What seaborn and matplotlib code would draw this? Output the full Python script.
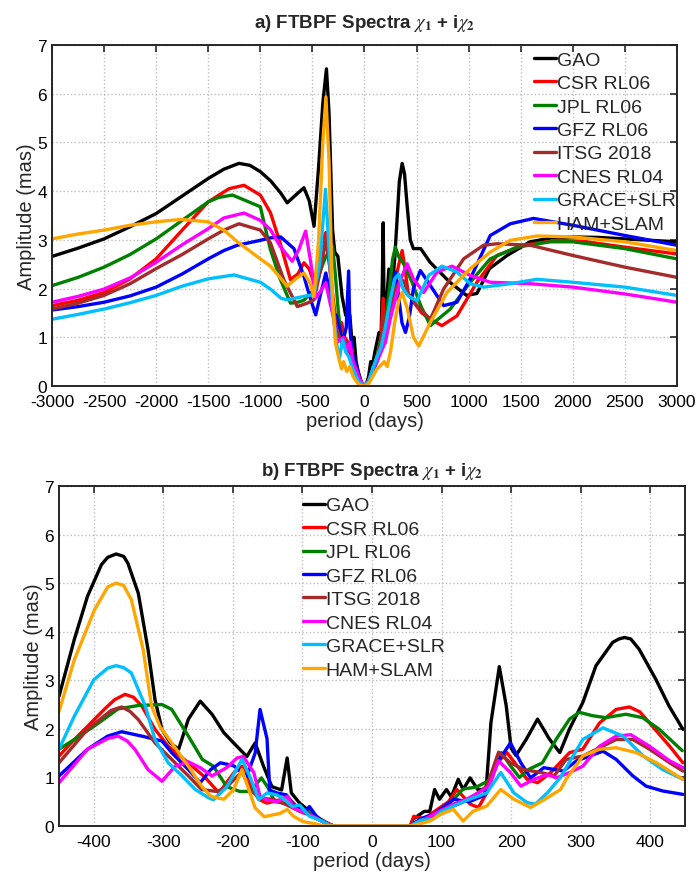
import numpy as np
import pandas as pd
import seaborn as sns
import matplotlib
matplotlib.use("Agg")
import matplotlib.pyplot as plt

names = ["GAO", "CSR RL06", "JPL RL06", "GFZ RL06", "ITSG 2018", "CNES RL04", "GRACE+SLR", "HAM+SLAM"]
colors = ["#000000", "#ff0000", "#008000", "#0000ff", "#a52a2a", "#ff00ff", "#00bfff", "#ffa500"]

# ---- panel a: period (days) / amplitude (mas) ----
a_gao_p = [-3000, -2750, -2500, -2250, -2000, -1750, -1500, -1350, -1205, -1100, -1000, -900, -800, -742, -660, -581,
           -530, -484, -440, -400, -365, -340, -306, -285, -255, -215, -180, -150, -140, -120, -100, -80, -60, -40, -20,
           0, 20, 40, 60, 80, 100, 120, 140, 160, 172, 180, 188, 202, 234, 266, 290, 310, 335, 362, 385, 410, 440, 470,
           540, 630, 820, 980, 1080, 1200, 1370, 1590, 1800, 2000, 2250, 2500, 2750, 3000]
a_gao_v = [2.66, 2.83, 3.02, 3.27, 3.54, 3.9, 4.26, 4.45, 4.57, 4.53, 4.40, 4.21, 3.95, 3.76, 3.92, 4.07,
           3.8, 3.28, 4.5, 5.8, 6.51, 5.6, 3.2, 2.75, 2.66, 1.84, 1.45, 1.5, 1.45, 0.9, 1.0, 0.5, 0.3, 0.15, 0.03,
           0, 0.05, 0.2, 0.5, 0.45, 0.7, 0.9, 1.1, 1.0, 2.2, 3.35, 1.6, 1.38, 2.4, 2.0, 2.6, 3.3, 4.2, 4.57, 4.35, 3.7, 3.0,
           2.82, 2.82, 2.54, 2.13, 1.86, 1.9, 2.41, 2.68, 2.96, 3.04, 3.06, 3.05, 3.02, 2.99, 2.96]

a_csr_p = [-3000, -2750, -2500, -2250, -2000, -1750, -1500, -1300, -1157, -1000, -903, -810, -710, -640, -581, -530,
           -484, -440, -400, -371, -340, -306, -280, -250, -220, -190, -160, -130, -100, -70, -40, 0, 40, 80, 120, 160,
           180, 200, 230, 270, 300, 330, 362, 390, 420, 473, 550, 633, 744, 888, 1080, 1272, 1527, 1847, 2102, 2500, 3000]
a_csr_v = [1.65, 1.76, 1.92, 2.2, 2.61, 3.2, 3.78, 4.05, 4.12, 3.92, 3.56, 2.94, 2.18, 2.3, 2.53, 2.4,
           2.11, 2.6, 3.0, 3.15, 2.6, 1.9, 1.43, 1.2, 1.3, 1.0, 0.9, 0.7, 0.5, 0.3, 0.1, 0, 0.1, 0.3, 0.6, 1.0,
           1.8, 1.0, 1.5, 1.8, 2.2, 2.5, 2.78, 2.4, 1.9, 1.72, 1.5, 1.37, 1.24, 1.44, 2.13, 2.68, 2.89, 2.99, 2.97, 2.85, 2.71]

a_jpl_p = [-3000, -2750, -2500, -2250, -2000, -1750, -1500, -1400, -1268, -1000, -903, -810, -710, -640, -581, -484,
           -400, -371, -306, -280, -250, -215, -180, -150, -120, -90, -60, -30, 0, 40, 80, 120, 160, 200, 240, 270, 297,
           330, 380, 457, 540, 633, 824, 1016, 1208, 1463, 1783, 2000, 2500, 3000]
a_jpl_v = [2.06, 2.23, 2.44, 2.7, 3.02, 3.4, 3.78, 3.87, 3.92, 3.68, 2.8, 2.2, 1.70, 1.72, 1.76, 1.98,
           2.5, 2.66, 2.87, 2.3, 1.5, 0.88, 0.9, 0.8, 0.6, 0.4, 0.2, 0.05, 0, 0.1, 0.35, 0.6, 1.0, 1.3, 2.0, 2.6, 2.85,
           2.65, 2.5, 2.13, 1.65, 1.24, 1.58, 2.13, 2.61, 2.85, 2.96, 2.96, 2.82, 2.61]

a_gfz_p = [-3000, -2750, -2500, -2250, -2000, -1750, -1500, -1350, -1220, -1000, -903, -805, -677, -581, -520, -468,
           -420, -371, -330, -306, -270, -240, -210, -175, -152, -140, -120, -90, -60, -30, 0, 40, 80, 120, 160, 200, 240,
           282, 300, 330, 360, 394, 430, 470, 537, 633, 760, 888, 1016, 1208, 1400, 1623, 2000, 2500, 3000]
a_gfz_v = [1.56, 1.63, 1.72, 1.85, 2.03, 2.3, 2.61, 2.78, 2.89, 2.99, 3.04, 3.06, 2.82, 2.25, 1.8, 1.46,
           1.9, 2.32, 1.9, 1.50, 1.45, 1.2, 0.88, 1.2, 2.36, 1.2, 0.7, 0.5, 0.25, 0.05, 0, 0.1, 0.3, 0.5, 0.8, 1.0, 1.6,
           2.2, 2.34, 1.8, 1.3, 1.10, 1.4, 2.0, 2.37, 2.06, 1.65, 1.72, 2.20, 3.09, 3.33, 3.44, 3.30, 3.09, 2.89]

a_itsg_p = [-3000, -2750, -2500, -2250, -2000, -1750, -1500, -1350, -1205, -1000, -903, -774, -645, -550, -484, -420,
            -371, -330, -300, -270, -240, -200, -160, -130, -100, -70, -40, 0, 40, 80, 120, 160, 180, 200, 240, 280, 340,
            377, 420, 505, 633, 760, 952, 1144, 1272, 1591, 2000, 2500, 3000]
a_itsg_v = [1.58, 1.7, 1.86, 2.1, 2.41, 2.7, 3.02, 3.2, 3.33, 3.20, 2.94, 2.18, 1.63, 1.7, 1.77, 2.4,
            3.01, 2.4, 1.6, 1.2, 1.0, 0.9, 0.8, 0.6, 0.45, 0.25, 0.1, 0, 0.1, 0.3, 0.6, 0.9, 1.4, 0.9, 1.5, 1.9, 2.16,
            2.16, 1.9, 1.65, 1.37, 1.99, 2.61, 2.89, 2.92, 2.89, 2.68, 2.44, 2.23]

a_cnes_p = [-3000, -2750, -2500, -2250, -2000, -1750, -1500, -1350, -1156, -1000, -903, -810, -694, -630, -565, -520,
            -468, -420, -371, -330, -306, -260, -230, -200, -170, -140, -110, -80, -50, 0, 40, 80, 120, 160, 200, 250,
            300, 350, 410, 470, 569, 697, 840, 1016, 1208, 1591, 2000, 2500, 3000]
a_cnes_v = [1.72, 1.84, 1.99, 2.22, 2.54, 2.9, 3.23, 3.45, 3.55, 3.40, 3.21, 2.87, 2.56, 2.8, 3.18, 2.6,
            1.81, 1.95, 2.12, 1.7, 1.50, 0.9, 0.95, 1.0, 0.7, 0.9, 0.5, 0.35, 0.15, 0, 0.1, 0.35, 0.5, 0.7, 0.9, 1.4,
            1.8, 2.2, 2.51, 2.2, 1.92, 2.34, 2.46, 2.27, 2.13, 2.10, 2.03, 1.89, 1.72]

a_gs_p = [-3000, -2750, -2500, -2250, -2000, -1750, -1500, -1252, -1000, -903, -800, -742, -581, -484, -430, -374, -340,
          -306, -270, -240, -210, -180, -150, -120, -90, -60, 0, 40, 80, 120, 160, 200, 250, 290, 329, 370, 420, 505, 617,
          744, 888, 1016, 1144, 1400, 1655, 2000, 2500, 3000]
a_gs_v = [1.37, 1.47, 1.58, 1.71, 1.86, 2.05, 2.20, 2.28, 2.13, 1.99, 1.80, 1.77, 1.84, 1.88, 2.5, 4.04, 2.8,
          1.6, 0.9, 0.57, 0.95, 0.7, 0.6, 0.4, 0.25, 0.1, 0, 0.1, 0.35, 0.6, 0.8, 1.2, 1.8, 2.2, 2.30, 2.0, 1.85, 1.75, 2.27,
          2.46, 2.34, 2.10, 2.03, 2.10, 2.19, 2.13, 2.03, 1.86]

a_ham_p = [-3000, -2750, -2500, -2250, -2000, -1763, -1500, -1350, -1220, -1000, -903, -800, -742, -660, -581, -520,
           -484, -440, -400, -370, -340, -310, -280, -250, -220, -200, -170, -140, -110, -80, -50, 0, 40, 80, 120, 154,
           190, 218, 250, 290, 330, 362, 410, 470, 521, 633, 792, 1016, 1208, 1400, 1655, 2000, 2500, 3000]
a_ham_v = [3.02, 3.12, 3.2, 3.3, 3.37, 3.42, 3.37, 3.2, 2.96, 2.61, 2.46, 2.2, 2.05, 2.2, 2.32, 2.1,
           1.84, 3.0, 5.0, 5.93, 4.6, 2.0, 0.9, 0.6, 0.35, 0.5, 0.3, 0.4, 0.2, 0.1, 0.02, 0, 0.05, 0.2, 0.35, 0.42,
           0.5, 0.4, 0.7, 1.3, 1.75, 1.92, 1.6, 1.0, 0.82, 1.31, 1.92, 2.41, 2.75, 2.99, 3.08, 3.06, 2.96, 2.78]

# ---- panel b ----
b_gao_p = [-450, -428, -409, -389, -380, -368, -357, -351, -336, -322, -312, -302, -290, -278, -264, -247, -230, -213,
           -199, -180, -168, -156, -144, -130, -122, -116, -104, -92, -82, -70, -61, -55, 55, 59, 75, 83, 90, 97, 107, 114,
           124, 131, 141, 152, 164, 171, 183, 193, 200, 207, 222, 238, 255, 270, 284, 303, 322, 346, 355, 363, 372, 384,
           408, 427, 447]
b_gao_v = [2.67, 3.84, 4.73, 5.38, 5.53, 5.60, 5.55, 5.41, 4.79, 3.63, 2.60, 1.99, 1.71, 1.58, 2.2, 2.57, 2.3, 1.92,
           1.71, 1.43, 1.71, 1.23, 0.81, 0.74, 1.40, 0.68, 0.47, 0.33, 0.19, 0.09, 0.02, 0, 0, 0.14, 0.3, 0.3, 0.75, 0.55,
           0.75, 0.6, 0.96, 0.75, 0.99, 0.75, 0.75, 2.13, 3.28, 2.47, 1.6, 1.45, 1.79, 2.2, 1.79, 1.51, 2.0, 2.54, 3.30,
           3.78, 3.85, 3.88, 3.85, 3.64, 3.02, 2.47, 1.99]

b_csr_p = [-450, -430, -409, -385, -370, -355, -343, -331, -312, -293, -264, -240, -220, -199, -187, -175, -163, -151,
           -132, -122, -108, -90, -75, -60, -55, 55, 60, 75, 90, 110, 122, 141, 153, 165, 180, 194, 209, 223, 238, 257, 284,
           303, 327, 351, 370, 385, 399, 428, 447]
b_csr_v = [1.44, 1.75, 2.05, 2.4, 2.6, 2.71, 2.65, 2.47, 1.99, 1.64, 1.30, 1.0, 0.68, 1.09, 1.23, 0.85, 0.55, 0.47,
           0.54, 0.6, 0.4, 0.23, 0.12, 0.03, 0, 0, 0.2, 0.15, 0.3, 0.5, 0.75, 0.45, 0.38, 0.68, 1.30, 1.51, 1.23, 0.96,
           0.89, 1.10, 1.51, 1.58, 2.12, 2.40, 2.45, 2.35, 2.12, 1.64, 1.30]

b_jpl_p = [-450, -428, -400, -365, -336, -302, -288, -264, -244, -228, -209, -190, -175, -159, -150, -140, -125, -110,
           -90, -75, -60, -55, 55, 70, 90, 111, 131, 150, 170, 186, 200, 212, 226, 245, 265, 284, 298, 317, 336, 365, 389,
           413, 446]
b_jpl_v = [1.58, 1.78, 2.05, 2.41, 2.48, 2.5, 2.40, 1.85, 1.37, 1.23, 0.81, 0.71, 0.71, 0.99, 0.8, 0.5, 0.47, 0.4,
           0.3, 0.15, 0.03, 0, 0, 0.1, 0.2, 0.45, 0.76, 0.8, 0.95, 1.51, 1.22, 1.0, 1.17, 1.30, 1.79, 2.2, 2.34, 2.27, 2.23,
           2.30, 2.23, 1.99, 1.55]

b_gfz_p = [-450, -409, -380, -360, -331, -302, -288, -264, -247, -232, -218, -199, -180, -168, -161, -151, -147, -137,
           -123, -111, -94, -90, -80, -70, -58, 55, 70, 90, 117, 140, 160, 180, 199, 214, 228, 247, 275, 294, 332, 351,
           375, 394, 418, 447]
b_gfz_v = [1.03, 1.58, 1.85, 1.94, 1.85, 1.75, 1.51, 1.16, 0.89, 1.16, 1.30, 1.24, 1.02, 1.50, 2.40, 1.8, 0.74, 0.68,
           0.64, 0.4, 0.33, 0.40, 0.2, 0.09, 0, 0, 0.15, 0.25, 0.55, 0.5, 0.62, 1.3, 1.71, 1.30, 0.99, 1.2, 1.13, 1.34, 1.54,
           1.37, 1.03, 0.82, 0.72, 0.65]

b_itsg_p = [-450, -409, -375, -360, -348, -336, -312, -288, -264, -245, -223, -209, -187, -175, -161, -142, -122, -104,
            -85, -70, -55, 55, 70, 90, 117, 140, 165, 182, 199, 218, 243, 262, 279, 303, 327, 351, 375, 399, 428, 447]
b_itsg_v = [1.30, 1.99, 2.38, 2.45, 2.36, 2.19, 1.71, 1.37, 1.03, 0.75, 0.71, 0.8, 1.12, 0.74, 0.57, 0.55, 0.43, 0.3,
            0.2, 0.08, 0, 0, 0.1, 0.2, 0.41, 0.55, 0.82, 1.52, 1.30, 1.16, 1.10, 1.03, 1.37, 1.44, 1.61, 1.78, 1.78, 1.58,
            1.30, 1.13]

b_cnes_p = [-450, -409, -380, -365, -352, -341, -322, -302, -283, -264, -247, -230, -209, -194, -185, -170, -161, -151,
            -137, -121, -113, -94, -75, -60, -55, 55, 70, 90, 117, 136, 155, 168, 182, 199, 214, 233, 252, 265, 284, 303,
            327, 351, 372, 399, 428, 447]
b_cnes_v = [0.89, 1.58, 1.8, 1.85, 1.75, 1.58, 1.16, 0.92, 1.23, 1.32, 1.2, 1.03, 1.2, 1.40, 1.43, 1.1, 0.61, 0.54,
            0.5, 0.61, 0.37, 0.26, 0.12, 0.02, 0, 0, 0.1, 0.25, 0.45, 0.55, 0.7, 0.82, 1.34, 1.10, 0.82, 0.96, 1.06, 0.99,
            1.10, 1.23, 1.64, 1.85, 1.88, 1.64, 1.34, 1.20]

b_gs_p = [-450, -428, -400, -380, -368, -357, -346, -326, -312, -293, -273, -254, -235, -228, -209, -187, -175, -163,
          -151, -137, -125, -115, -104, -90, -75, -62, -55, 55, 70, 88, 100, 117, 140, 165, 185, 204, 223, 235, 252, 271,
          303, 332, 361, 390, 418, 447]
b_gs_v = [1.58, 2.26, 3.01, 3.25, 3.30, 3.26, 3.15, 2.47, 1.78, 1.30, 1.03, 0.75, 0.58, 0.54, 0.8, 1.37, 1.0, 0.54,
          0.68, 0.64, 0.54, 0.4, 0.43, 0.2, 0.12, 0.02, 0, 0, 0.12, 0.14, 0.3, 0.41, 0.55, 0.68, 1.10, 0.68, 0.48, 0.45,
          0.68, 1.0, 1.78, 2.02, 1.85, 1.44, 1.16, 0.96]

b_ham_p = [-450, -428, -399, -380, -368, -357, -346, -329, -317, -305, -288, -264, -245, -232, -213, -199, -187, -177,
           -168, -155, -132, -122, -113, -99, -80, -70, 55, 70, 83, 100, 117, 131, 145, 165, 185, 204, 228, 252, 271, 279,
           303, 327, 351, 380, 409, 447]
b_ham_v = [2.36, 3.42, 4.45, 4.92, 5.0, 4.95, 4.66, 3.63, 2.47, 2.05, 1.71, 1.23, 0.82, 0.61, 0.55, 0.75, 1.16, 0.74,
           0.37, 0.19, 0.26, 0.34, 0.2, 0.09, 0.04, 0, 0, 0.05, 0.1, 0.25, 0.34, 0.1, 0.3, 0.41, 0.75, 0.55, 0.38, 0.58,
           0.75, 0.96, 1.44, 1.58, 1.61, 1.51, 1.30, 0.96]

panel_a = [(a_gao_p, a_gao_v), (a_csr_p, a_csr_v), (a_jpl_p, a_jpl_v), (a_gfz_p, a_gfz_v),
           (a_itsg_p, a_itsg_v), (a_cnes_p, a_cnes_v), (a_gs_p, a_gs_v), (a_ham_p, a_ham_v)]
panel_b = [(b_gao_p, b_gao_v), (b_csr_p, b_csr_v), (b_jpl_p, b_jpl_v), (b_gfz_p, b_gfz_v),
           (b_itsg_p, b_itsg_v), (b_cnes_p, b_cnes_v), (b_gs_p, b_gs_v), (b_ham_p, b_ham_v)]

sns.set_style("white")
plt.rcParams["font.family"] = ["Liberation Sans", "DejaVu Sans"]
plt.rcParams["mathtext.fontset"] = "stix"
plt.rcParams["axes.unicode_minus"] = False

fig = plt.figure(figsize=(7, 8.79), dpi=100)
ax1 = fig.add_axes([0.0743, 0.5597, 0.8927, 0.388])
ax2 = fig.add_axes([0.0843, 0.0592, 0.8943, 0.3868])


def draw(ax, data, xlim, xticks, title, legend_anchor, pad):
    for (p, v), name, c in zip(data, names, colors):
        df = pd.DataFrame({"period": p, "amp": v})
        sns.lineplot(data=df, x="period", y="amp", color=c, label=name, linewidth=2.4,
                     sort=False, estimator=None, ax=ax)
    if xlim[1] < 1000:
        # flat zero stretch in the middle (HAM+SLAM drawn on top)
        ax.plot([-70, 55], [0, 0], color=colors[-1], lw=2.4)
    ax.set_xlim(*xlim)
    ax.set_ylim(0, 7)
    ax.set_xticks(xticks)
    ax.set_yticks(range(0, 8))
    ax.grid(True, linestyle=":", color="#bdbdbd", linewidth=1)
    ax.tick_params(direction="in", top=True, right=True, length=5, width=1.2,
                   labelsize=12.5, colors="#262626", labelcolor="black")
    ax.tick_params(axis="x", pad=6)
    for s in ax.spines.values():
        s.set_color("#262626")
        s.set_linewidth(1.4)
    ax.set_xlabel("period (days)", fontsize=14.5, labelpad=1)
    ax.set_ylabel("Amplitude (mas)", fontsize=14.5, labelpad=1)
    ax.set_title(title, fontsize=13.5, fontweight="bold", pad=pad)
    ax.legend(loc="upper left", bbox_to_anchor=legend_anchor, frameon=False, fontsize=14,
              handlelength=1.1, handletextpad=0.05, labelspacing=0.3, borderaxespad=0,
              borderpad=0)


draw(ax1, panel_a, (-3000, 3000), range(-3000, 3001, 500),
     r"a) FTBPF Spectra $\chi_{\mathbf{1}}$ + i$\chi_{\mathbf{2}}$", (0.772, 0.982), 13)
draw(ax2, panel_b, (-450, 450), range(-400, 401, 100),
     r"b) FTBPF Spectra $\chi_{\mathbf{1}}$ + i$\chi_{\mathbf{2}}$", (0.39, 0.968), 8)

fig.savefig("out.png", dpi=100)
